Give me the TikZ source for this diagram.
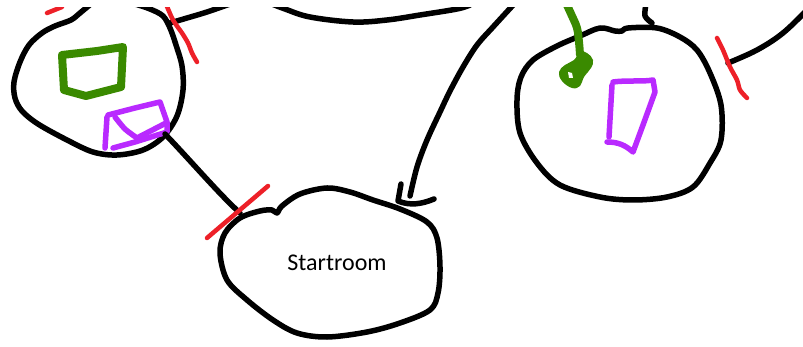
\documentclass[tikz,border=0pt]{standalone}
\usepackage{fontspec}
\setmainfont{Carlito}
\definecolor{inkred}{RGB}{237,32,40}
\definecolor{inkgreen}{RGB}{58,138,0}
\definecolor{inkpurple}{RGB}{185,42,255}
\tikzset{
  ink/.style={draw=black, line width=5.5pt, line cap=round, line join=round},
  redink/.style={draw=inkred, line width=4.5pt, line cap=round, line join=round},
  greenink/.style={draw=inkgreen, line width=8pt, line cap=round, line join=round},
  purpleink/.style={draw=inkpurple, line width=5.5pt, line cap=round, line join=round},
  roomlabel/.style={font=\fontsize{24}{28}\selectfont, text=black, inner sep=0pt}
}
\begin{document}
\begin{tikzpicture}[x=1pt,y=-1pt]
\useasboundingbox (0,0) rectangle (803,347);
\begin{scope}
\clip (0,8) rectangle (803,347);

% ---------- top-left room ----------
\draw[ink] plot[smooth, tension=0.55] coordinates {(92,3) (80,13) (71,20) (55,26) (42,33) (29,45) (20,62) (14,82) (15,98) (22,111) (38,124) (67,140) (93,152) (117,155) (143,150) (163,137) (177,116) (183,90) (182,66) (176,45) (170,28) (163,16) (150,9) (135,4)};
\coordinate (tlexit) at (165,134);
\coordinate (tltop) at (170,23);
\coordinate (tltopend) at (230,4);
\draw[ink] plot[smooth, tension=0.6] coordinates {(tltop) (187,18) (207,12) (tltopend)};
% red door marks
\draw[redink] (47,13) -- (62,7);
\draw[redink] plot[smooth] coordinates {(166,4) (173,20) (182,33) (188,43) (192,53) (197,62)};
% green rectangle
\draw[greenink] (62,55) -- (97,51) -- (123,47) -- (121,87) -- (86,96) -- (64,90) -- cycle;
% purple envelope
\draw[purpleink] (107,117) -- (105,148);
\draw[purpleink] (108,115) -- (135,108) -- (160,102) -- (167,122) -- (167,132) -- (135,142) -- (113,148);
\draw[purpleink] plot[smooth] coordinates {(115,117) (125,129) (137,138)} -- (166,123);

% ---------- Startroom ----------
\node[roomlabel] (start) at (337,263) {Startroom};
\draw[ink] plot[smooth cycle, tension=0.55] coordinates {(272,210) (277,213) (282,206) (300,194) (327,188) (350,192) (373,200) (400,209) (427,222) (437,238) (440,267) (438,293) (430,310) (400,323) (367,332) (327,337) (297,333) (273,320) (247,300) (227,280) (220,253) (225,233) (240,218) (260,211)};
\coordinate (srentry) at (240,213);
\draw[ink] (tlexit) .. controls (190,160) and (220,195) .. (srentry);
\draw[redink] (268,186) -- (207,238);

% ---------- top middle ----------
\draw[ink] plot[smooth, tension=0.6] coordinates {(272,4) (285,9) (310,17) (353,22) (387,20) (420,15) (457,9) (470,5)};

% ---------- arrow into Startroom ----------
\coordinate (arrowtop) at (515,3);
\coordinate (arrowend) at (410,196);
\draw[ink] plot[smooth, tension=0.55] coordinates {(arrowtop) (493,27) (477,45) (463,67) (450,91) (440,112) (427,140) (417,167) (arrowend)};
\draw[ink] (401,184) -- (398,201) .. controls (410,206) and (422,204) .. (434,199);

% ---------- top-right room ----------
\draw[ink] plot[smooth cycle, tension=0.55] coordinates {(580,36) (600,28) (615,31) (622,31) (628,28) (657,28) (680,37) (697,50) (710,73) (721,105) (721,140) (710,163) (693,187) (667,197) (633,200) (600,197) (560,185) (537,163) (520,133) (517,100) (521,77) (533,60) (557,46)};
\draw[ink] plot[smooth] coordinates {(646,4) (645,16) (652,23)};
\coordinate (trexit) at (728,63);
\coordinate (trend) at (808,9);
\draw[ink] plot[smooth, tension=0.6] coordinates {(trexit) (757,50) (783,33) (trend)};
\draw[redink] plot[smooth] coordinates {(717,38) (723,50) (730,67) (737,80) (740,90) (747,98)};
% green key
\draw[greenink] plot[smooth, tension=0.6] coordinates {(566,3) (572,16) (577,28) (579,42) (580,55)};
\fill[inkgreen] plot[smooth cycle, tension=0.7] coordinates {(580,52) (587,53) (593,60) (591,68) (584,77) (580,86) (572,88) (562,81) (559,72) (565,65) (574,60)};
\fill[white] (568,72) -- (572,73) -- (573,78) -- (569,78) -- cycle;
% purple shape
\draw[purpleink] (612,85) -- (609,137);
\draw[purpleink] (613,82) .. controls (628,80) and (642,82) .. (653,80) -- (655,92) -- (643,125) -- (633,152) .. controls (625,145) and (618,142) .. (607,142);
\end{scope}
\end{tikzpicture}
\end{document}
